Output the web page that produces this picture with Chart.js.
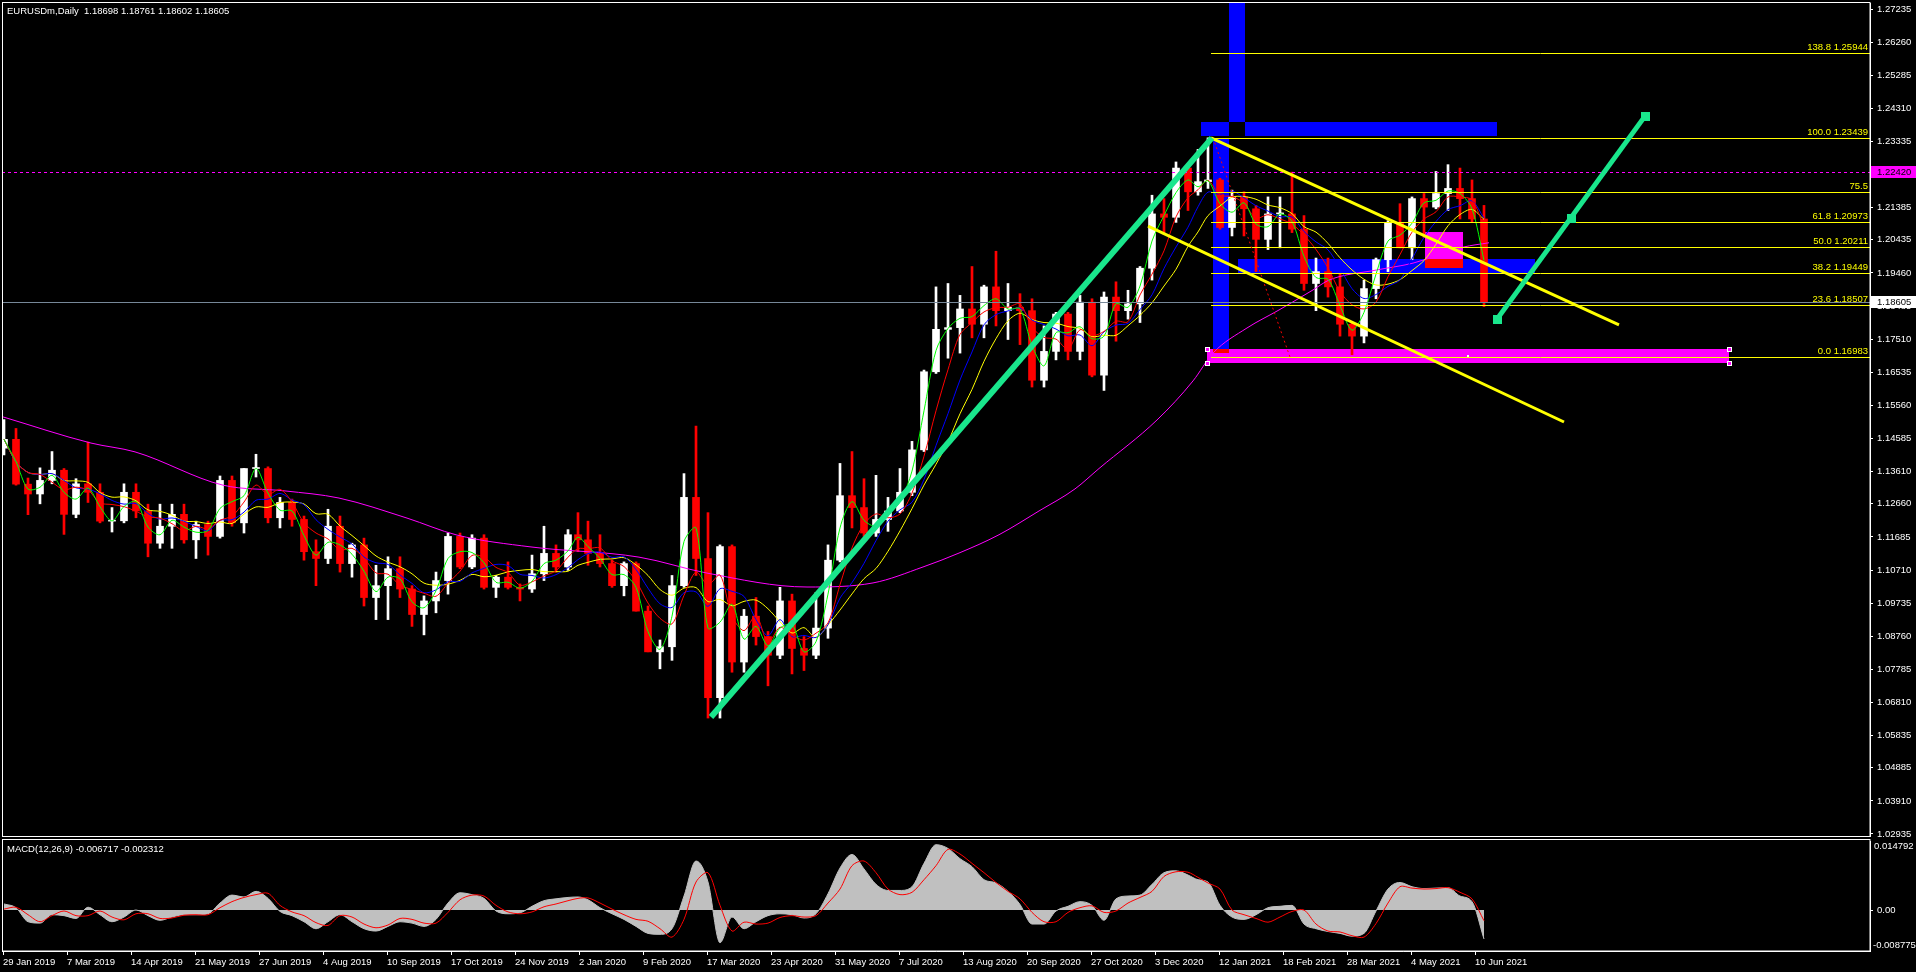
<!DOCTYPE html>
<html>
<head>
<meta charset="utf-8">
<script src="https://cdn.jsdelivr.net/npm/chart.js@4.4.1/dist/chart.umd.min.js"></script>
<style>
  html, body { margin: 0; padding: 0; background: #000; overflow: hidden; }
  #wrap { position: relative; width: 1916px; height: 972px; background: #000; }
  #main { position: absolute; left: 0; top: 0; width: 1916px; height: 838px; }
  #macd { position: absolute; left: 0; top: 838px; width: 1916px; height: 134px; }
</style>
</head>
<body>
<div id="wrap">
  <canvas id="main" width="1916" height="838"></canvas>
  <canvas id="macd" width="1916" height="134"></canvas>
</div>
<script>
// EURUSDm daily chart, shown here as weekly candles (one candle per trading week,
// first week starts Sunday 27 Jan 2019, last week is 13-18 Jun 2021).
const FIRST_WEEK = Date.UTC(2019, 0, 27);

const WEEK_OPEN = [
  1.1430,1.1456,1.1324,1.1295,1.1335,1.1365,1.1235,1.1325,1.1300,1.1215,
  1.1216,1.1300,1.1245,1.1150,1.1200,1.1235,1.1160,1.1205,1.1170,1.1335,
  1.1210,1.1370,1.1370,1.1225,1.1270,1.1220,1.1125,1.1105,1.1200,1.1090,
  1.1145,1.0990,1.1025,1.1075,1.1015,1.0940,1.0980,1.1040,1.1170,1.1080,
  1.1165,1.1020,1.1050,1.1020,1.1015,1.1060,1.1120,1.1080,1.1175,1.1160,
  1.1120,1.1090,1.1025,1.1090,1.0950,1.0830,1.0845,1.1025,1.1285,1.1105,
  1.0695,1.1140,1.0800,1.0935,1.0875,1.0820,1.0980,1.0840,1.0820,1.0900,
  1.1100,1.1290,1.1255,1.1180,1.1220,1.1245,1.1300,1.1425,1.1655,1.1780,
  1.1785,1.1840,1.1795,1.1905,1.1835,1.1845,1.1835,1.1630,1.1715,1.1825,
  1.1715,1.1860,1.1645,1.1875,1.1835,1.1855,1.1960,1.2120,1.2110,1.2255,
  1.2185,1.2215,1.2220,1.2080,1.2170,1.2135,1.2045,1.2120,1.2120,1.2075,
  1.1915,1.1950,1.1905,1.1795,1.1760,1.1900,1.1985,1.2095,1.2020,1.2165,
  1.2140,1.2180,1.2195,1.2165,1.2105
];
const WEEK_HIGH = [
  1.1514,1.1488,1.1342,1.1372,1.1420,1.1370,1.1340,1.1448,1.1325,1.1255,
  1.1325,1.1325,1.1265,1.1265,1.1265,1.1265,1.1215,1.1215,1.1348,1.1348,
  1.1370,1.1412,1.1375,1.1285,1.1280,1.1230,1.1160,1.1250,1.1230,1.1150,
  1.1165,1.1085,1.1110,1.1110,1.1025,1.0995,1.1065,1.1180,1.1180,1.1175,
  1.1175,1.1055,1.1095,1.1030,1.1115,1.1200,1.1145,1.1190,1.1240,1.1215,
  1.1175,1.1100,1.1095,1.1095,1.0965,1.0865,1.1055,1.1355,1.1495,1.1240,
  1.1145,1.1145,1.0955,1.0990,1.0890,1.1020,1.1000,1.0875,1.1005,1.1145,
  1.1385,1.1420,1.1340,1.1350,1.1285,1.1370,1.1450,1.1660,1.1905,1.1915,
  1.1880,1.1965,1.1910,1.2010,1.1915,1.1885,1.1870,1.1790,1.1830,1.1830,
  1.1880,1.1870,1.1890,1.1920,1.1895,1.1965,1.2175,1.2165,1.2273,1.2250,
  1.2310,1.2344,1.2225,1.2190,1.2185,1.2145,1.2170,1.2170,1.2243,1.2115,
  1.1990,1.1990,1.1945,1.1800,1.1925,1.1990,1.2100,1.2150,1.2170,1.2180,
  1.2245,1.2265,1.2255,1.2220,1.2145
];
const WEEK_LOW = [
  1.1410,1.1321,1.1234,1.1266,1.1325,1.1176,1.1225,1.1270,1.1210,1.1183,
  1.1210,1.1225,1.1110,1.1135,1.1135,1.1150,1.1105,1.1115,1.1165,1.1200,
  1.1180,1.1345,1.1210,1.1195,1.1200,1.1100,1.1025,1.1090,1.1065,1.1050,
  1.0965,1.0925,1.0925,1.0990,1.0905,1.0880,1.0945,1.1000,1.1075,1.1075,
  1.1015,1.0990,1.1015,1.0980,1.1005,1.1040,1.1065,1.1070,1.1125,1.1085,
  1.1080,1.1020,1.0995,1.0950,1.0830,1.0780,1.0805,1.1020,1.1055,1.0635,
  1.0635,1.0770,1.0770,1.0850,1.0730,1.0810,1.0765,1.0775,1.0810,1.0870,
  1.1095,1.1195,1.1170,1.1170,1.1185,1.1240,1.1290,1.1420,1.1650,1.1695,
  1.1710,1.1755,1.1755,1.1790,1.1750,1.1735,1.1610,1.1610,1.1690,1.1690,
  1.1690,1.1640,1.1600,1.1745,1.1810,1.1800,1.1925,1.2060,1.2095,1.2130,
  1.2175,1.2195,1.2075,1.2055,1.2055,1.1950,1.2015,1.2020,1.2065,1.1895,
  1.1835,1.1875,1.1760,1.1705,1.1740,1.1870,1.1950,1.2020,1.1985,1.2050,
  1.2135,1.2130,1.2105,1.2095,1.1847
];
const WEEK_CLOSE = [
  1.1456,1.1324,1.1295,1.1335,1.1365,1.1235,1.1325,1.1300,1.1215,1.1216,
  1.1300,1.1245,1.1150,1.1200,1.1235,1.1160,1.1205,1.1170,1.1335,1.1210,
  1.1370,1.1370,1.1225,1.1270,1.1220,1.1125,1.1105,1.1200,1.1090,1.1145,
  1.0990,1.1025,1.1075,1.1015,1.0940,1.0980,1.1040,1.1170,1.1080,1.1165,
  1.1020,1.1050,1.1020,1.1015,1.1060,1.1120,1.1080,1.1175,1.1160,1.1120,
  1.1090,1.1025,1.1090,1.0950,1.0830,1.0845,1.1025,1.1285,1.1105,1.0695,
  1.1140,1.0800,1.0935,1.0875,1.0820,1.0980,1.0840,1.0820,1.0900,1.1100,
  1.1290,1.1255,1.1180,1.1220,1.1245,1.1300,1.1425,1.1655,1.1780,1.1785,
  1.1840,1.1795,1.1905,1.1835,1.1845,1.1835,1.1630,1.1715,1.1825,1.1715,
  1.1860,1.1645,1.1875,1.1835,1.1855,1.1960,1.2120,1.2110,1.2255,1.2185,
  1.2215,1.2220,1.2080,1.2170,1.2135,1.2045,1.2120,1.2120,1.2075,1.1915,
  1.1950,1.1905,1.1795,1.1760,1.1900,1.1985,1.2095,1.2020,1.2165,1.2140,
  1.2180,1.2195,1.2165,1.2105,1.1860
];

// slow magenta MA: bar number (daily bars from 29 Jan 2019) and value
const SLOW_MA_BAR = [0,44,66,110,141,168,202,227,264,318,352,402,435,460,478,498,518,536,548,577,595,605,622,638,655,663,687,705,730,743];
const SLOW_MA = [1.1522,1.1445,1.1419,1.1321,1.1304,1.1283,1.1224,1.1174,1.1139,1.1109,1.1062,1.1021,1.1033,1.1080,1.1121,1.1175,1.1245,1.1310,1.1370,1.1513,1.1628,1.1710,1.1784,1.1837,1.1896,1.1925,1.1955,1.1975,1.2022,1.2035];

// MACD(12,26,9) main (histogram) and signal, one value per week
const MACD_MAIN = [
  0.0013,0.0005,-0.0025,-0.0028,-0.0010,-0.0012,-0.0018,0.0006,-0.0010,-0.0025,
  -0.0015,0.0000,-0.0012,-0.0022,-0.0015,-0.0010,-0.0010,-0.0008,0.0015,0.0032,
  0.0028,0.0040,0.0025,-0.0003,-0.0012,-0.0025,-0.0040,-0.0025,-0.0010,-0.0025,
  -0.0040,-0.0045,-0.0035,-0.0025,-0.0028,-0.0035,-0.0020,0.0015,0.0037,0.0033,
  0.0025,-0.0002,-0.0008,-0.0006,0.0008,0.0020,0.0024,0.0027,0.0028,0.0022,
  0.0005,-0.0008,-0.0020,-0.0035,-0.0050,-0.0052,-0.0040,0.0030,0.0105,0.0060,
  -0.0070,-0.0015,-0.0040,-0.0025,-0.0012,-0.0008,-0.0010,-0.0017,-0.0008,0.0035,
  0.0090,0.0119,0.0088,0.0055,0.0042,0.0042,0.0050,0.0100,0.0140,0.0132,
  0.0110,0.0093,0.0065,0.0058,0.0040,0.0012,-0.0030,-0.0030,-0.0002,0.0008,
  0.0018,0.0010,-0.0022,0.0024,0.0030,0.0032,0.0055,0.0080,0.0084,0.0075,
  0.0065,0.0060,0.0010,-0.0015,-0.0020,-0.0010,0.0005,0.0008,0.0010,-0.0030,
  -0.0040,-0.0046,-0.0050,-0.0056,-0.0050,-0.0002,0.0045,0.0059,0.0050,0.0046,
  0.0047,0.0048,0.0030,0.0018,-0.0062
];
const MACD_SIGNAL = [
  0.0002,0.0006,-0.0010,-0.0025,-0.0012,-0.0002,-0.0012,-0.0012,-0.0002,-0.0015,
  -0.0021,-0.0008,-0.0008,-0.0018,-0.0017,-0.0011,-0.0010,-0.0010,0.0005,0.0018,
  0.0027,0.0033,0.0036,0.0010,-0.0004,-0.0012,-0.0027,-0.0033,-0.0012,-0.0015,
  -0.0030,-0.0038,-0.0032,-0.0018,-0.0020,-0.0028,-0.0028,-0.0005,0.0022,0.0032,
  0.0030,0.0010,-0.0004,-0.0008,-0.0004,0.0007,0.0013,0.0020,0.0025,0.0026,
  0.0015,0.0002,-0.0010,-0.0020,-0.0024,-0.0040,-0.0058,-0.0020,0.0060,0.0080,
  0.0010,-0.0045,-0.0026,-0.0030,-0.0028,-0.0016,-0.0012,-0.0015,-0.0012,0.0015,
  0.0045,0.0095,0.0105,0.0080,0.0045,0.0033,0.0038,0.0065,0.0095,0.0130,
  0.0120,0.0100,0.0080,0.0059,0.0040,0.0024,-0.0005,-0.0025,-0.0025,-0.0005,
  0.0005,0.0009,-0.0005,-0.0002,0.0015,0.0027,0.0040,0.0072,0.0082,0.0081,
  0.0070,0.0058,0.0045,0.0000,-0.0010,-0.0018,-0.0026,-0.0015,-0.0003,0.0000,
  -0.0030,-0.0045,-0.0047,-0.0055,-0.0058,-0.0029,0.0015,0.0050,0.0047,0.0045,
  0.0046,0.0048,0.0038,0.0024,-0.0023
];

const PRICE_TICKS = [
  1.27235,1.26260,1.25285,1.24310,1.23335,1.22360,1.21385,1.20435,1.19460,1.18485,
  1.17510,1.16535,1.15560,1.14585,1.13610,1.12660,1.11685,1.10710,1.09735,1.08760,
  1.07785,1.06810,1.05835,1.04885,1.03910,1.02935
];
const PRICE_TOP = 1.27412, PRICE_BOTTOM = 1.02876;
const MACD_TOP = 0.014792, MACD_BOTTOM = -0.008775;

const DATE_LABELS = [
  '29 Jan 2019','7 Mar 2019','14 Apr 2019','21 May 2019','27 Jun 2019','4 Aug 2019',
  '10 Sep 2019','17 Oct 2019','24 Nov 2019','2 Jan 2020','9 Feb 2020','17 Mar 2020',
  '23 Apr 2020','31 May 2020','7 Jul 2020','13 Aug 2020','20 Sep 2020','27 Oct 2020',
  '3 Dec 2020','12 Jan 2021','18 Feb 2021','28 Mar 2021','4 May 2021','10 Jun 2021'
];

// Fibonacci retracement drawn from the Jan 2021 high to the Mar 2021 low
const FIB_PRICES = [1.25944,1.23439,1.21857,1.20973,1.20211,1.19449,1.18507,1.16983];
const FIB_TEXT = ['138.8 1.25944','100.0 1.23439','75.5','61.8 1.20973','50.0 1.20211','38.2 1.19449','23.6 1.18507','0.0 1.16983'];
const FIB_FROM_BAR = 604;

// rectangles: [from bar, to bar, top price, bottom price, colour]
const RECTS = [
  [613, 621, 1.2760, 1.23494, '#0000ff'],
  [599, 747, 1.23907, 1.23494, '#0000ff'],
  [605, 613, 1.23435, 1.17102, '#0000ff'],
  [617.5, 766, 1.19871, 1.19458, '#0000ff'],
  [711, 730, 1.20667, 1.19607, '#ff00ff'],
  [602, 863, 1.17220, 1.16808, '#ff00ff'],
];
// trend lines: [bar1, price1, bar2, price2, colour, width, dashed]
const TRENDS = [
  [605, 1.23439, 643.5, 1.16983, '#ff0000', 1, true],
  [572.5, 1.2084, 780.5, 1.1507, '#ffff00', 3, false],
  [604, 1.2344, 808, 1.1793, '#ffff00', 3, false],
  [354, 1.0638, 604.5, 1.2344, '#19e68c', 6, false],
  [747, 1.1810, 821, 1.2408, '#19e68c', 5, false],
];
const LEVEL_LINE = 1.22420;
const BID = 1.18605;

const FONT_FAMILY = "'Liberation Sans', Arial, sans-serif";
const FONT_PX = 9.5;
const FONT = { family: FONT_FAMILY, size: FONT_PX };
const CANVAS_FONT = `${FONT_PX}px ${FONT_FAMILY}`;
const DAY = 864e5;
const MONTHS = { Jan:0, Feb:1, Mar:2, Apr:3, May:4, Jun:5, Jul:6, Aug:7, Sep:8, Oct:9, Nov:10, Dec:11 };

// the broker has Sunday bars; 25 Dec and 1 Jan are missing
function isBarDay(t) {
    const d = new Date(t);
    if (d.getUTCDay() === 6) return false;
    const m = d.getUTCMonth(), dd = d.getUTCDate();
    return !((m === 11 && dd === 25) || (m === 0 && dd === 1));
}
function barOf(t) {
    let n = -2; // Sunday 27 Jan 2019 is two bars before 29 Jan 2019
    for (let d = FIRST_WEEK; d < t; d += DAY) if (isBarDay(d)) n++;
    return n;
}
function parseLabel(s) {
    const [d, m, y] = s.split(' ');
    return Date.UTC(+y, MONTHS[m], +d);
}
function sma(src, n) {
    return src.map((_, i) => {
        const win = src.slice(Math.max(0, i - n + 1), i + 1);
        return win.reduce((s, v) => s + v, 0) / win.length;
    });
}

const CENTERS = WEEK_OPEN.map((_, k) => barOf(FIRST_WEEK + 7 * k * DAY) + 2.5);
const DATE_BARS = DATE_LABELS.map(s => barOf(parseLabel(s)));
const candleColours = WEEK_OPEN.map((o, i) => WEEK_CLOSE[i] >= o ? '#ffffff' : '#ff0000');

const maLine = (vals, color, order) => ({
    type: 'line',
    data: vals.map((v, i) => ({ x: CENTERS[i], y: v })),
    borderColor: color, borderWidth: 1, pointRadius: 0, tension: 0.3, order,
});

const X_MIN = -0.5, X_MAX = 933.5;

function px(c, b) { return c.scales.x.getPixelForValue(b); }
function py(c, p) { return c.scales.y.getPixelForValue(p); }

const blackBg = {
    id: 'blackBg',
    beforeDraw(c) {
        const g = c.ctx;
        g.save(); g.fillStyle = '#000'; g.fillRect(0, 0, c.width, c.height); g.restore();
    },
};

const mainDrawings = {
    id: 'mainDrawings',
    beforeDatasetsDraw(c) {
        const g = c.ctx, a = c.chartArea;
        g.save();
        g.beginPath(); g.rect(a.left, a.top, a.right - a.left, a.bottom - a.top); g.clip();
        g.globalCompositeOperation = 'difference';
        RECTS.forEach(([b0, b1, p0, p1, col]) => {
            const x0 = Math.round(px(c, b0)), x1 = Math.round(px(c, b1));
            const y0 = Math.round(py(c, p0)), y1 = Math.round(py(c, p1));
            g.fillStyle = col;
            g.fillRect(x0, y0, x1 - x0, y1 - y0);
        });
        g.restore();
    },
    afterDatasetsDraw(c) {
        const g = c.ctx, a = c.chartArea;
        g.save();
        g.beginPath(); g.rect(a.left, a.top, a.right - a.left, a.bottom - a.top); g.clip();

        // dashed level line and bid line
        let y = Math.round(py(c, LEVEL_LINE)) + 0.5;
        g.strokeStyle = '#ff00ff'; g.lineWidth = 1; g.setLineDash([3, 3]);
        g.beginPath(); g.moveTo(a.left, y); g.lineTo(a.right, y); g.stroke();
        g.setLineDash([]);
        y = Math.round(py(c, BID)) + 0.5;
        g.strokeStyle = '#778899';
        g.beginPath(); g.moveTo(a.left, y); g.lineTo(a.right, y); g.stroke();

        // fibonacci levels
        const fx = Math.round(px(c, FIB_FROM_BAR));
        g.font = CANVAS_FONT;
        g.textAlign = 'right'; g.textBaseline = 'bottom';
        FIB_PRICES.forEach((p, i) => {
            const fy = Math.round(py(c, p)) + 0.5;
            g.strokeStyle = '#ffff00';
            g.beginPath(); g.moveTo(fx, fy); g.lineTo(a.right, fy); g.stroke();
            g.fillStyle = '#ffff00';
            g.fillText(FIB_TEXT[i], a.right - 2, fy - 1);
        });

        // trend lines
        g.lineCap = 'butt';
        TRENDS.forEach(([b0, p0, b1, p1, col, w, dashed]) => {
            g.strokeStyle = col; g.lineWidth = w;
            g.setLineDash(dashed ? [2, 3] : []);
            g.beginPath(); g.moveTo(px(c, b0), py(c, p0)); g.lineTo(px(c, b1), py(c, p1)); g.stroke();
        });
        g.setLineDash([]);

        // selection handles: green line ends and middle, rectangle corners
        const [gb0, gp0, gb1, gp1, gcol] = TRENDS[4];
        g.fillStyle = gcol;
        [[gb0, gp0], [gb1, gp1], [(gb0 + gb1) / 2, (gp0 + gp1) / 2]].forEach(([b, p]) => {
            g.fillRect(Math.round(px(c, b)) - 4, Math.round(py(c, p)) - 4, 9, 9);
        });
        const pink = RECTS[5];
        [[pink[0], pink[2]], [pink[0], pink[3]], [pink[1], pink[2]], [pink[1], pink[3]]].forEach(([b, p]) => {
            const hx = Math.round(px(c, b)), hy = Math.round(py(c, p));
            g.fillStyle = '#ffffff'; g.fillRect(hx - 2, hy - 2, 5, 5);
            g.fillStyle = '#ff00ff'; g.fillRect(hx - 1, hy - 1, 3, 3);
        });
        g.fillStyle = '#ffffff';
        g.fillRect(Math.round(px(c, (pink[0] + pink[1]) / 2)) - 1, Math.round(py(c, (pink[2] + pink[3]) / 2)) - 1, 2, 2);
        g.restore();
    },
    afterDraw(c) {
        const g = c.ctx, a = c.chartArea;
        g.save();
        g.strokeStyle = '#ffffff'; g.lineWidth = 1;
        g.strokeRect(2.5, 2.5, a.right - 2.5, a.bottom - 2);
        g.font = CANVAS_FONT;
        g.textAlign = 'left'; g.textBaseline = 'alphabetic';
        g.fillStyle = '#ffffff';
        g.fillText('EURUSDm,Daily  1.18698 1.18761 1.18602 1.18605', 7, 14);

        // price tags on the axis
        g.textBaseline = 'middle';
        let y = Math.round(py(c, LEVEL_LINE));
        g.fillStyle = '#ff00ff'; g.fillRect(a.right + 1, y - 6, 45, 12);
        g.fillStyle = '#000000'; g.fillText(LEVEL_LINE.toFixed(5), a.right + 7, y);
        y = Math.round(py(c, BID));
        g.fillStyle = '#ffffff'; g.fillRect(a.right + 1, y - 6, 45, 12);
        g.fillStyle = '#000000'; g.fillText(BID.toFixed(5), a.right + 7, y);
        g.restore();
    },
};

const macdDrawings = {
    id: 'macdDrawings',
    afterDraw(c) {
        const g = c.ctx, a = c.chartArea;
        g.save();
        g.strokeStyle = '#ffffff'; g.lineWidth = 1;
        g.strokeRect(2.5, 1.5, a.right - 2.5, a.bottom - 1.5);
        g.font = CANVAS_FONT;
        g.fillStyle = '#ffffff';
        g.textAlign = 'left'; g.textBaseline = 'alphabetic';
        g.fillText('MACD(12,26,9) -0.006717 -0.002312', 7, 14);
        g.textBaseline = 'middle';
        g.fillText(MACD_TOP.toFixed(6), a.right + 4, 8);
        g.fillText(MACD_BOTTOM.toFixed(6), a.right + 3, 107);
        g.restore();
    },
};

const hiddenX = {
    type: 'linear', min: X_MIN, max: X_MAX, offset: false,
    grid: { display: false, offset: false }, border: { display: false },
    ticks: { display: false },
    afterFit: s => { s.height = 0; s.paddingLeft = 0; s.paddingRight = 0; },
};

new Chart(document.getElementById('main'), {
    type: 'bar',
    data: {
        datasets: [
            maLine(sma(WEEK_CLOSE, 2), '#00ff00', 1),
            maLine(sma(WEEK_CLOSE, 4), '#ff0000', 2),
            maLine(sma(WEEK_CLOSE, 6), '#0000ff', 3),
            maLine(sma(WEEK_CLOSE, 8), '#ffff00', 4),
            {
                type: 'line',
                data: SLOW_MA_BAR.map((b, i) => ({ x: b, y: SLOW_MA[i] })),
                borderColor: '#ff00ff', borderWidth: 1, pointRadius: 0,
                cubicInterpolationMode: 'monotone', order: 5,
            },
            {
                data: CENTERS.map((x, i) => ({ x, y: [WEEK_OPEN[i], WEEK_CLOSE[i]] })),
                backgroundColor: candleColours, barThickness: 7, minBarLength: 1,
                grouped: false, order: 10,
            },
            {
                data: CENTERS.map((x, i) => ({ x, y: [WEEK_LOW[i], WEEK_HIGH[i]] })),
                backgroundColor: candleColours, barThickness: 2,
                grouped: false, order: 11,
            },
        ],
    },
    options: {
        responsive: false, animation: false, devicePixelRatio: 1, events: [],
        layout: { padding: { left: 2, top: 3, right: 0, bottom: 2 } },
        plugins: { legend: { display: false }, tooltip: { enabled: false } },
        scales: {
            x: hiddenX,
            y: {
                type: 'linear', position: 'right', min: PRICE_BOTTOM, max: PRICE_TOP,
                bounds: 'data', beginAtZero: false,
                afterBuildTicks: s => { s.ticks = PRICE_TICKS.map(v => ({ value: v })); },
                afterFit: s => { s.width = 46; s.paddingTop = 0; s.paddingBottom = 0; },
                grid: { drawOnChartArea: false, tickLength: 3, color: '#ffffff' },
                border: { color: '#ffffff' },
                ticks: { color: '#ffffff', padding: 4, autoSkip: false, font: FONT, callback: v => v.toFixed(5) },
            },
        },
    },
    plugins: [blackBg, mainDrawings],
});

new Chart(document.getElementById('macd'), {
    type: 'line',
    data: {
        datasets: [
            {
                data: MACD_SIGNAL.map((v, i) => ({ x: CENTERS[i], y: v })),
                borderColor: '#ff0000', borderWidth: 1, pointRadius: 0, tension: 0.3, order: 1,
            },
            {
                data: MACD_MAIN.map((v, i) => ({ x: CENTERS[i], y: v })),
                borderColor: '#c0c0c0', backgroundColor: '#c0c0c0', borderWidth: 1,
                pointRadius: 0, fill: 'origin', cubicInterpolationMode: 'monotone', order: 2,
            },
        ],
    },
    options: {
        responsive: false, animation: false, devicePixelRatio: 1, events: [],
        layout: { padding: { left: 2, top: 3, right: 0, bottom: 0 } },
        plugins: { legend: { display: false }, tooltip: { enabled: false } },
        scales: {
            x: {
                type: 'linear', min: X_MIN, max: X_MAX, offset: false, position: 'bottom',
                afterBuildTicks: s => { s.ticks = DATE_BARS.map(v => ({ value: v })); },
                afterFit: s => { s.height = 21; s.paddingLeft = 0; s.paddingRight = 0; },
                grid: { drawOnChartArea: false, offset: false, tickLength: 4, color: '#ffffff' },
                border: { color: '#ffffff' },
                ticks: {
                    color: '#ffffff', padding: 2, align: 'start', autoSkip: false,
                    maxRotation: 0, minRotation: 0, font: FONT,
                    callback: (v, i) => DATE_LABELS[i],
                },
            },
            y: {
                type: 'linear', position: 'right', min: MACD_BOTTOM, max: MACD_TOP,
                bounds: 'data', beginAtZero: false,
                afterBuildTicks: s => { s.ticks = [{ value: 0 }]; },
                afterFit: s => { s.width = 46; s.paddingTop = 0; s.paddingBottom = 0; },
                grid: { drawOnChartArea: false, tickLength: 3, color: '#ffffff' },
                border: { color: '#ffffff' },
                ticks: { color: '#ffffff', padding: 4, font: FONT, callback: () => '0.00' },
            },
        },
    },
    plugins: [blackBg, macdDrawings],
});
</script>
</body>
</html>
